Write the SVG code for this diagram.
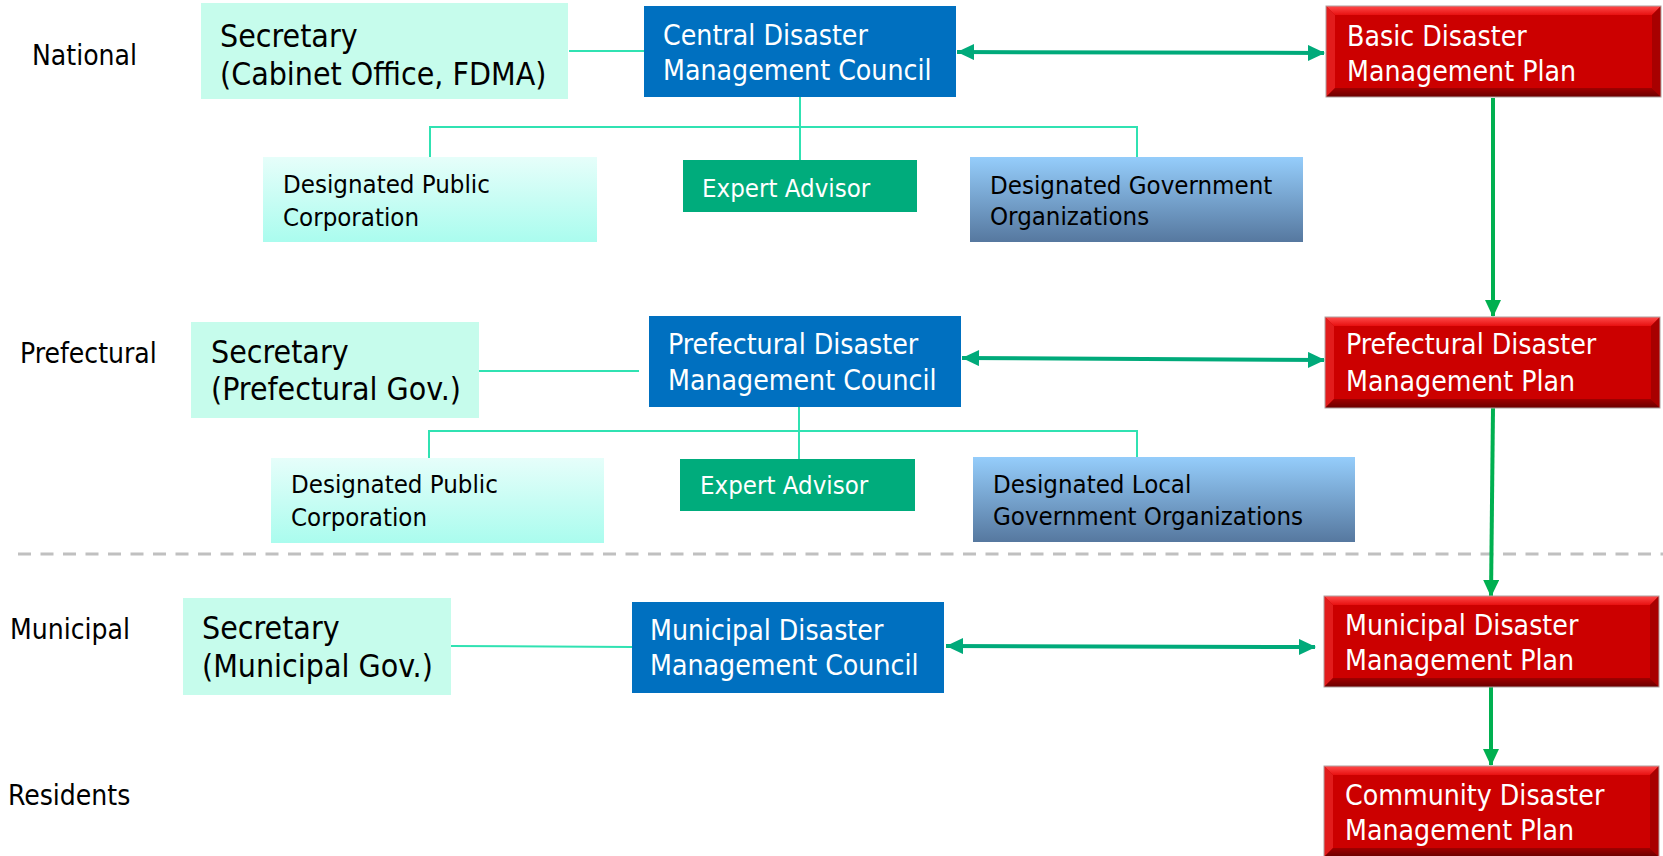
<svg xmlns="http://www.w3.org/2000/svg" width="1663" height="856" viewBox="0 0 1663 856">
<style>
text{font-family:'DejaVu Sans Condensed','DejaVu Sans',sans-serif;}
.lbl{font-size:28px;fill:#000;}
.sec{font-size:31.8px;fill:#000;}
.big{font-size:28.2px;fill:#fff;}
.sm{font-size:25.6px;fill:#000;}
.smw{font-size:25.6px;fill:#fff;}
.secbox{fill:#c6fcec;}
.council{fill:#0070c0;}
.expert{fill:#00ac7c;}
.conn{stroke:#30e2b2;stroke-width:2;fill:none;}
.dbl{stroke:#00aa7a;stroke-width:4;fill:none;marker-start:url(#hs);marker-end:url(#he);}
.down{stroke:#00b050;stroke-width:4;fill:none;marker-end:url(#hd);}
</style>
<defs>
<linearGradient id="gPub" x1="0" y1="0" x2="0" y2="1"><stop offset="0" stop-color="#e6fefa"/><stop offset="1" stop-color="#aafcee"/></linearGradient>
<linearGradient id="gGov" x1="0" y1="0" x2="0" y2="1"><stop offset="0" stop-color="#95cdfb"/><stop offset="1" stop-color="#56789f"/></linearGradient>
<linearGradient id="gTop" x1="0" y1="0" x2="0" y2="1"><stop offset="0" stop-color="#ff4a4a"/><stop offset="1" stop-color="#e81010"/></linearGradient>
<linearGradient id="gBot" x1="0" y1="0" x2="0" y2="1"><stop offset="0" stop-color="#a00000"/><stop offset="1" stop-color="#6a0000"/></linearGradient>
<marker id="he" markerUnits="userSpaceOnUse" markerWidth="18" markerHeight="16" refX="16" refY="8" orient="auto"><path d="M0,0 L17,8 L0,16 Z" fill="#00aa7a"/></marker>
<marker id="hs" markerUnits="userSpaceOnUse" markerWidth="18" markerHeight="16" refX="0" refY="8" orient="auto"><path d="M17,0 L0,8 L17,16 Z" fill="#00aa7a"/></marker>
<marker id="hd" markerUnits="userSpaceOnUse" markerWidth="18" markerHeight="16" refX="16" refY="8" orient="auto"><path d="M0,0 L17,8 L0,16 Z" fill="#00b050"/></marker>
<g id="bevel">
<rect x="0" y="0" width="335" height="91" fill="#cc0000"/>
<polygon points="0,0 335,0 326,9 9,9" fill="url(#gTop)"/>
<polygon points="0,0 9,9 9,82 0,91" fill="#e21c1c"/>
<polygon points="335,0 335,91 326,82 326,9" fill="#a80000"/>
<polygon points="0,91 9,82 326,82 335,91" fill="url(#gBot)"/>
<rect x="9" y="9" width="317" height="73" fill="#cc0000"/>
<rect x="0" y="0" width="335" height="91" fill="none" stroke="#b0a0a0" stroke-width="1"/>
</g>
</defs>
<rect width="1663" height="856" fill="#fff"/>

<g id="row-labels">
<text class="lbl" x="32" y="65">National</text>
<text class="lbl" x="20" y="363">Prefectural</text>
<text class="lbl" x="10" y="639">Municipal</text>
<text class="lbl" x="8" y="805">Residents</text>
</g>

<line x1="18" y1="554" x2="1663" y2="554" stroke="#c0c0c0" stroke-width="3" stroke-dasharray="13 9.5"/>

<g id="connectors">
<path class="conn" d="M569,51 H644"/>
<path class="conn" d="M800,97 V160 M430,157 V127 H1137 V157"/>
<path class="conn" d="M479,371 H639"/>
<path class="conn" d="M799,407 V459 M429,458 V431 H1137 V457"/>
<path class="conn" d="M451,646 L632,647"/>
<path class="dbl" d="M957,52 L1324,53"/>
<path class="dbl" d="M962,358 L1324,360"/>
<path class="dbl" d="M946,646 L1315,647"/>
<path class="down" d="M1493,98 V316"/>
<path class="down" d="M1493,408 L1491,596"/>
<path class="down" d="M1491,687 V765"/>
</g>

<g id="sec-national">
<rect class="secbox" x="201" y="3" width="367" height="96"/>
<text class="sec" x="220" y="47">Secretary</text>
<text class="sec" x="220" y="85">(Cabinet Office, FDMA)</text>
</g>
<g id="council-central">
<rect class="council" x="644" y="6" width="312" height="91"/>
<text class="big" x="663" y="45">Central Disaster</text>
<text class="big" x="663" y="80">Management Council</text>
</g>
<g id="plan-basic">
<use href="#bevel" x="1326" y="6"/>
<text class="big" x="1347" y="46">Basic Disaster</text>
<text class="big" x="1347" y="81">Management Plan</text>
</g>
<g id="public-national">
<rect x="263" y="157" width="334" height="85" fill="url(#gPub)"/>
<text class="sm" x="283" y="193">Designated Public</text>
<text class="sm" x="283" y="226">Corporation</text>
</g>
<g id="expert-national">
<rect class="expert" x="683" y="160" width="234" height="52"/>
<text class="smw" x="702" y="197">Expert Advisor</text>
</g>
<g id="gov-national">
<rect x="970" y="157" width="333" height="85" fill="url(#gGov)"/>
<text class="sm" x="990" y="194">Designated Government</text>
<text class="sm" x="990" y="225">Organizations</text>
</g>

<g id="sec-prefectural">
<rect class="secbox" x="191" y="322" width="288" height="96"/>
<text class="sec" x="211" y="363">Secretary</text>
<text class="sec" x="211" y="400">(Prefectural Gov.)</text>
</g>
<g id="council-prefectural">
<rect class="council" x="649" y="316" width="312" height="91"/>
<text class="big" x="668" y="354">Prefectural Disaster</text>
<text class="big" x="668" y="390">Management Council</text>
</g>
<g id="plan-prefectural">
<use href="#bevel" x="1325" y="317"/>
<text class="big" x="1346" y="354">Prefectural Disaster</text>
<text class="big" x="1346" y="391">Management Plan</text>
</g>
<g id="public-prefectural">
<rect x="271" y="458" width="333" height="85" fill="url(#gPub)"/>
<text class="sm" x="291" y="493">Designated Public</text>
<text class="sm" x="291" y="526">Corporation</text>
</g>
<g id="expert-prefectural">
<rect class="expert" x="680" y="459" width="235" height="52"/>
<text class="smw" x="700" y="494">Expert Advisor</text>
</g>
<g id="gov-prefectural">
<rect x="973" y="457" width="382" height="85" fill="url(#gGov)"/>
<text class="sm" x="993" y="493">Designated Local</text>
<text class="sm" x="993" y="525">Government Organizations</text>
</g>

<g id="sec-municipal">
<rect class="secbox" x="183" y="598" width="268" height="97"/>
<text class="sec" x="202" y="639">Secretary</text>
<text class="sec" x="202" y="677">(Municipal Gov.)</text>
</g>
<g id="council-municipal">
<rect class="council" x="632" y="602" width="312" height="91"/>
<text class="big" x="650" y="640">Municipal Disaster</text>
<text class="big" x="650" y="675">Management Council</text>
</g>
<g id="plan-municipal">
<use href="#bevel" x="1324" y="596"/>
<text class="big" x="1345" y="635">Municipal Disaster</text>
<text class="big" x="1345" y="670">Management Plan</text>
</g>
<g id="plan-community">
<use href="#bevel" x="1324" y="766"/>
<text class="big" x="1345" y="805">Community Disaster</text>
<text class="big" x="1345" y="840">Management Plan</text>
</g>
</svg>
